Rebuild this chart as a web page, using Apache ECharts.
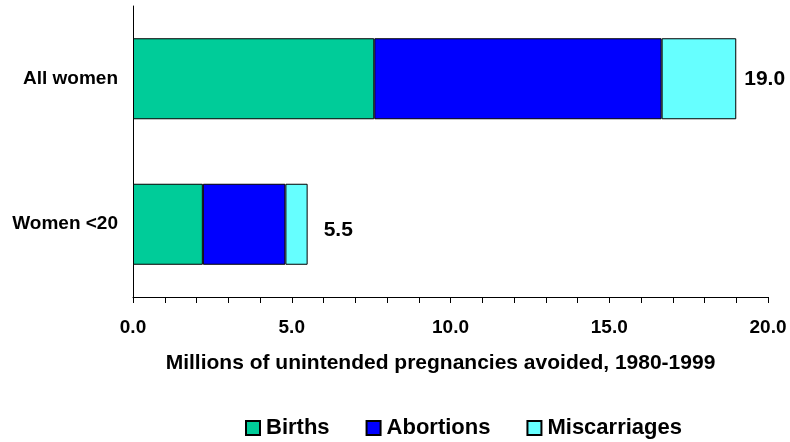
<!DOCTYPE html>
<html>
<head>
<meta charset="utf-8">
<script src="https://cdn.jsdelivr.net/npm/echarts@6/dist/echarts.min.js"></script>
<style>html,body{margin:0;padding:0;background:#fff}#c{width:790px;height:442px}</style>
</head>
<body>
<div id="c"></div>
<script>
const categories = ['Women <20', 'All women'];
const births = [2.2, 7.6];
const abortions = [2.6, 9.05];
const miscarriages = [0.7, 2.35];
const totals = [5.5, 19.0];
const axisTitle = 'Millions of unintended pregnancies avoided, 1980-1999';

const FONT = '"Liberation Sans", Arial, sans-serif';
const chart = echarts.init(document.getElementById('c'), null, {renderer: 'canvas'});
const border = {borderColor: '#000', borderWidth: 1};
chart.setOption({
  animation: false,
  grid: {left: 133, right: 22, top: 6, bottom: 145, containLabel: false},
  legend: {
    left: 245, top: 417, padding: 0,
    itemWidth: 14, itemHeight: 14, itemGap: 36,
    icon: 'rect',
    textStyle: {fontFamily: FONT, fontWeight: 'bold', fontSize: 22, color: '#000', padding: [0, 0, 0, 1]},
    data: ['Births', 'Abortions', 'Miscarriages']
  },
  xAxis: {
    type: 'value', min: 0, max: 20, interval: 1,
    name: axisTitle, nameLocation: 'middle', nameGap: 56,
    nameTextStyle: {fontFamily: FONT, fontWeight: 'bold', fontSize: 21, color: '#000', padding: [0, 20, 0, 0]},
    axisLine: {show: true, lineStyle: {color: '#000', width: 1}},
    axisTick: {show: true, length: 6, lineStyle: {color: '#000'}},
    splitLine: {show: false},
    axisLabel: {
      margin: 21, fontFamily: FONT, fontWeight: 'bold', fontSize: 19, color: '#000',
      formatter: v => (v % 5 === 0 ? v.toFixed(1) : '')
    }
  },
  yAxis: {
    type: 'category', data: categories,
    axisLine: {show: true, lineStyle: {color: '#000', width: 1}},
    axisTick: {show: false},
    axisLabel: {margin: 15, fontFamily: FONT, fontWeight: 'bold', fontSize: 19, color: '#000'}
  },
  series: [
    {name: 'Births', type: 'bar', stack: 't', barWidth: 81, data: births,
     itemStyle: Object.assign({color: '#00CC99'}, border)},
    {name: 'Abortions', type: 'bar', stack: 't', barWidth: 81, data: abortions,
     itemStyle: Object.assign({color: '#0000FF'}, border)},
    {name: 'Miscarriages', type: 'bar', stack: 't', barWidth: 81,
     data: miscarriages.map((v, i) => i === 0 ? {value: v, label: {distance: 16, offset: [0, 6]}} : v),
     itemStyle: Object.assign({color: '#66FFFF'}, border),
     label: {
       show: true, position: 'right', distance: 8,
       fontFamily: FONT, fontWeight: 'bold', fontSize: 21, color: '#000',
       formatter: p => totals[p.dataIndex].toFixed(1)
     }}
  ]
});
</script>
</body>
</html>
